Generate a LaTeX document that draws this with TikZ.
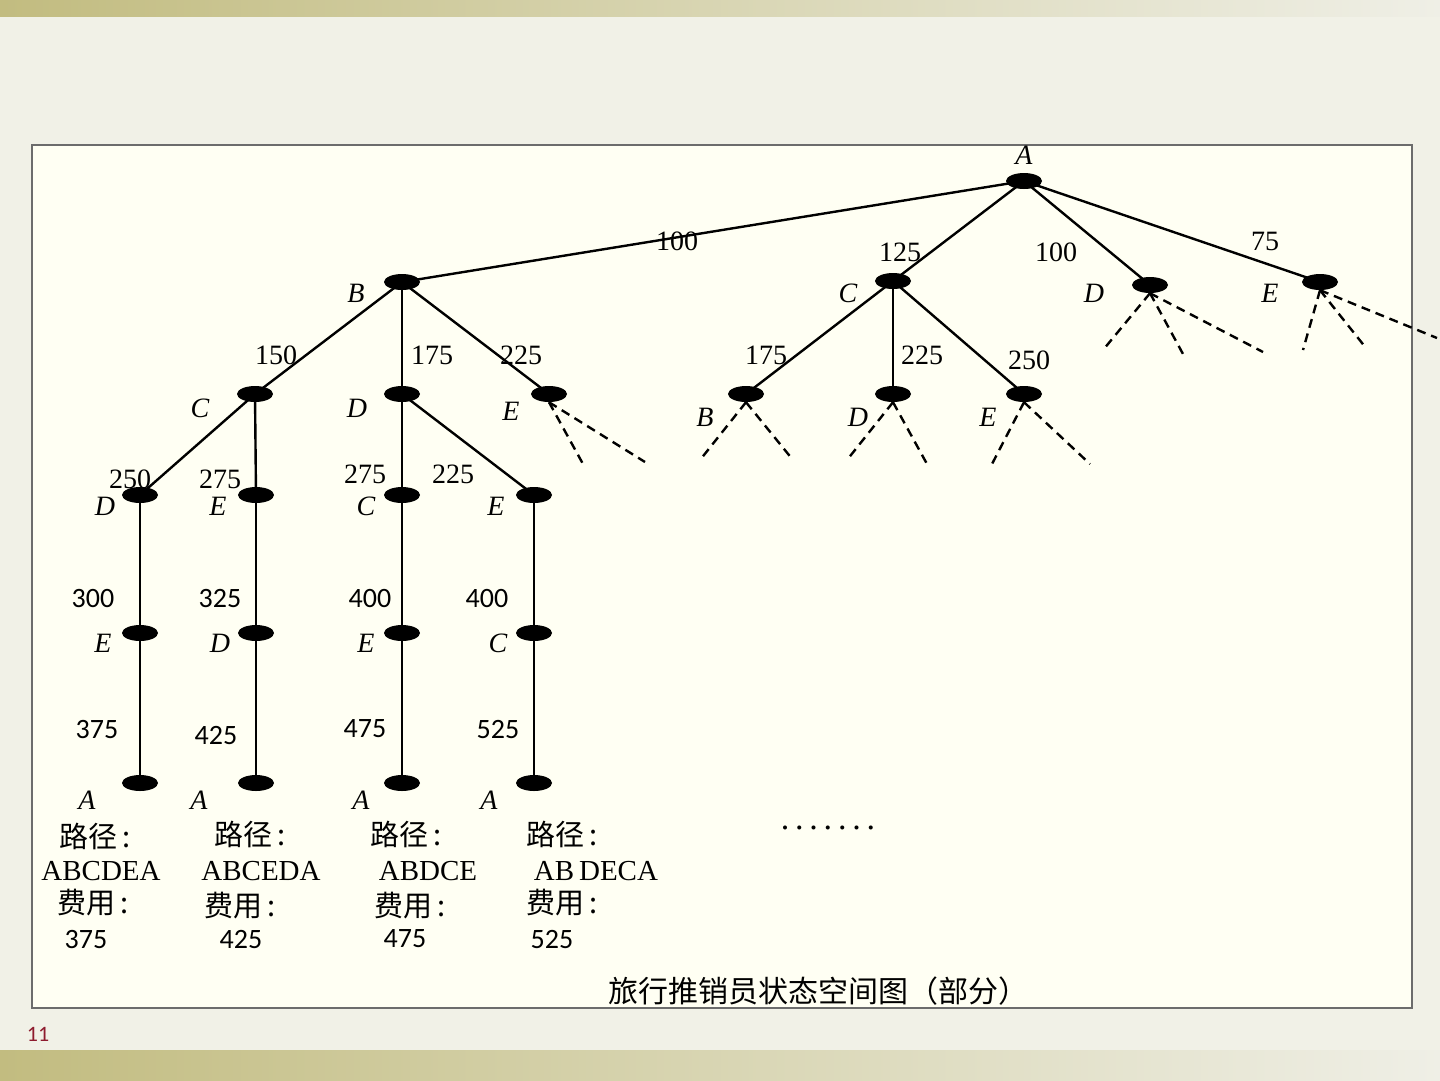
\documentclass[tikz,border=0pt]{standalone}
\usepackage{fontspec}
\setmainfont{Liberation Serif}
\newfontfamily\cjk{Noto Sans CJK SC}
\newfontfamily\sansnum{Carlito}
\usetikzlibrary{shapes.geometric}
\pgfdeclarelayer{back}
\pgfdeclarelayer{edges}
\pgfsetlayers{back,edges,main}
\definecolor{pagebg}{HTML}{F1F1E7}
\definecolor{boxbg}{HTML}{FFFFF3}
\definecolor{barL}{HTML}{C2BC80}
\definecolor{barR}{HTML}{EFEFE6}
\definecolor{pgnum}{HTML}{8E1B2E}
\tikzset{
  vtx/.style={ellipse, fill=black, minimum width=36pt, minimum height=16pt, inner sep=0pt},
  tedge/.style={line width=2.4pt},
  dedge/.style={line width=2.4pt, dash pattern=on 9pt off 6pt},
  lbl/.style={font=\fontsize{28}{32}\selectfont\itshape, inner sep=0pt},
  wt/.style={font=\fontsize{28}{32}\selectfont, inner sep=0pt},
  swt/.style={font=\fontsize{28}{32}\selectfont\sansnum, inner sep=0pt},
  cjkt/.style={font=\fontsize{29}{32}\selectfont\cjk, inner sep=0pt},
  path/.style={font=\fontsize{29}{32}\selectfont, inner sep=0pt}
}
\begin{document}
\begin{tikzpicture}[x=1pt,y=-1pt]
\begin{pgfonlayer}{back}
\fill[pagebg] (0,0) rectangle (1440,1080);
\shade[left color=barL, right color=barR] (0,0) rectangle (1440,16);
\shade[left color=barL, right color=barR] (0,1050) rectangle (1440,1080);
\fill[boxbg, draw=gray!85!black, line width=2pt] (32,145) rectangle (1412,1008);
\end{pgfonlayer}
% nodes
\node[vtx] (A0) at (1024,181) {};
\node[vtx] (B1) at (402,282) {};
\node[vtx] (C1) at (893,281) {};
\node[vtx] (D1) at (1150,285) {};
\node[vtx] (E1) at (1320,282) {};
\node[vtx] (BC) at (255,394) {};
\node[vtx] (BD) at (402,394) {};
\node[vtx] (BE) at (549,394) {};
\node[vtx] (CB) at (746,394) {};
\node[vtx] (CD) at (893,394) {};
\node[vtx] (CE) at (1024,394) {};
\node[vtx] (BCD) at (140,495) {};
\node[vtx] (BCE) at (256,495) {};
\node[vtx] (BDC) at (402,495) {};
\node[vtx] (BDE) at (534,495) {};
\node[vtx] (BCDE) at (140,633) {};
\node[vtx] (BCED) at (256,633) {};
\node[vtx] (BDCE) at (402,633) {};
\node[vtx] (BDEC) at (534,633) {};
\node[vtx] (F1) at (140,783) {};
\node[vtx] (F2) at (256,783) {};
\node[vtx] (F3) at (402,783) {};
\node[vtx] (F4) at (534,783) {};
% free ends of dashed edges
\coordinate (d1a) at (1103,350);
\coordinate (d1b) at (1183,354);
\coordinate (d1c) at (1263,352);
\coordinate (e1a) at (1303,350);
\coordinate (e1b) at (1366,348);
\coordinate (e1c) at (1437,338);
\coordinate (bea) at (583,464);
\coordinate (beb) at (645,462);
\coordinate (cba) at (700,460);
\coordinate (cbb) at (793,460);
\coordinate (cda) at (847,460);
\coordinate (cdb) at (927,464);
\coordinate (cea) at (992,464);
\coordinate (ceb) at (1090,464);
\begin{pgfonlayer}{edges}
\draw[tedge] (A0.center) -- (B1.center);
\draw[tedge] (A0.center) -- (C1.center);
\draw[tedge] (A0.center) -- (D1.center);
\draw[tedge] (A0.center) -- (E1.center);
\draw[tedge] (B1.center) -- (BC.center);
\draw[tedge] (B1.center) -- (BD.center);
\draw[tedge] (B1.center) -- (BE.center);
\draw[tedge] (C1.center) -- (CB.center);
\draw[tedge] (C1.center) -- (CD.center);
\draw[tedge] (C1.center) -- (CE.center);
\draw[tedge] (BC.center) -- (BCD.center);
\draw[tedge] (BC.center) -- (BCE.center);
\draw[tedge] (BD.center) -- (BDC.center);
\draw[tedge] (BD.center) -- (BDE.center);
\draw[tedge] (BCD.center) -- (BCDE.center);
\draw[tedge] (BCE.center) -- (BCED.center);
\draw[tedge] (BDC.center) -- (BDCE.center);
\draw[tedge] (BDE.center) -- (BDEC.center);
\draw[tedge] (BCDE.center) -- (F1.center);
\draw[tedge] (BCED.center) -- (F2.center);
\draw[tedge] (BDCE.center) -- (F3.center);
\draw[tedge] (BDEC.center) -- (F4.center);
\draw[dedge] (D1.south) -- (d1a);
\draw[dedge] (D1.south) -- (d1b);
\draw[dedge] (D1.south) -- (d1c);
\draw[dedge] (E1.south) -- (e1a);
\draw[dedge] (E1.south) -- (e1b);
\draw[dedge] (E1.south) -- (e1c);
\draw[dedge] (BE.south) -- (bea);
\draw[dedge] (BE.south) -- (beb);
\draw[dedge] (CB.south) -- (cba);
\draw[dedge] (CB.south) -- (cbb);
\draw[dedge] (CD.south) -- (cda);
\draw[dedge] (CD.south) -- (cdb);
\draw[dedge] (CE.south) -- (cea);
\draw[dedge] (CE.south) -- (ceb);
\end{pgfonlayer}
% state labels
\node[lbl] (lA0) at (1024,155) {A};
\node[lbl] (lB1) at (356,293) {B};
\node[lbl] (lC1) at (848,293) {C};
\node[lbl] (lD1) at (1094,293) {D};
\node[lbl] (lE1) at (1270,293) {E};
\node[lbl] (lBC) at (200,408) {C};
\node[lbl] (lBD) at (357,408) {D};
\node[lbl] (lBE) at (511,411) {E};
\node[lbl] (lCB) at (705,417) {B};
\node[lbl] (lCD) at (858,417) {D};
\node[lbl] (lCE) at (988,417) {E};
\node[lbl] (lBCD) at (105,506) {D};
\node[lbl] (lBCE) at (218,506) {E};
\node[lbl] (lBDC) at (366,506) {C};
\node[lbl] (lBDE) at (496,506) {E};
\node[lbl] (lBCDE) at (103,643) {E};
\node[lbl] (lBCED) at (220,643) {D};
\node[lbl] (lBDCE) at (366,643) {E};
\node[lbl] (lBDEC) at (498,643) {C};
\node[lbl] (lF1) at (87,800) {A};
\node[lbl] (lF2) at (199,800) {A};
\node[lbl] (lF3) at (361,800) {A};
\node[lbl] (lF4) at (489,800) {A};
% weights
\node[wt] (w1) at (677,241) {100};
\node[wt] (w2) at (900,252) {125};
\node[wt] (w3) at (1056,252) {100};
\node[wt] (w4) at (1265,241) {75};
\node[wt] (w5) at (276,355) {150};
\node[wt] (w6) at (432,355) {175};
\node[wt] (w7) at (521,355) {225};
\node[wt] (w8) at (766,355) {175};
\node[wt] (w9) at (922,355) {225};
\node[wt] (w10) at (1029,360) {250};
\node[wt] (w11) at (130,479) {250};
\node[wt] (w12) at (220,479) {275};
\node[wt] (w13) at (365,474) {275};
\node[wt] (w14) at (453,474) {225};
\node[swt] (w15) at (93,598) {300};
\node[swt] (w16) at (220,598) {325};
\node[swt] (w17) at (370,598) {400};
\node[swt] (w18) at (487,598) {400};
\node[swt] (w19) at (97,729) {375};
\node[swt] (w20) at (216,735) {425};
\node[swt] (w21) at (365,729) {475};
\node[swt] (w22) at (498,729) {525};
% results
\node[cjkt] (p1) at (95,836) {路径\,:};
\node[cjkt] (p2) at (250,834) {路径\,:};
\node[cjkt] (p3) at (406,834) {路径\,:};
\node[cjkt] (p4) at (562,834) {路径\,:};
\node[path] (r1) at (101,871) {ABCDEA};
\node[path] (r2) at (261,871) {ABCEDA};
\node[path] (r3) at (428,871) {ABDCE};
\node[path] (r4) at (596,871) {AB\,DECA};
\node[cjkt] (c1) at (93,903) {费用\,:};
\node[cjkt] (c2) at (240,906) {费用\,:};
\node[cjkt] (c3) at (410,906) {费用\,:};
\node[cjkt] (c4) at (562,903) {费用\,:};
\node[swt] (v1) at (86,939) {375};
\node[swt] (v2) at (241,939) {425};
\node[swt] (v3) at (405,939) {475};
\node[swt] (v4) at (552,939) {525};
\node[font=\fontsize{34}{36}\selectfont, inner sep=0pt] (dots) at (828,828) {.\hspace{5.8pt}.\hspace{5.8pt}.\hspace{5.8pt}.\hspace{5.8pt}.\hspace{5.8pt}.\hspace{5.8pt}.};
\node[font=\fontsize{30}{32}\selectfont\cjk, inner sep=0pt] (cap) at (818,991) {旅行推销员状态空间图（部分）};
\node[font=\fontsize{22}{24}\selectfont\sansnum, text=pgnum, inner sep=0pt] (pg) at (38,1034) {11};
\end{tikzpicture}
\end{document}
